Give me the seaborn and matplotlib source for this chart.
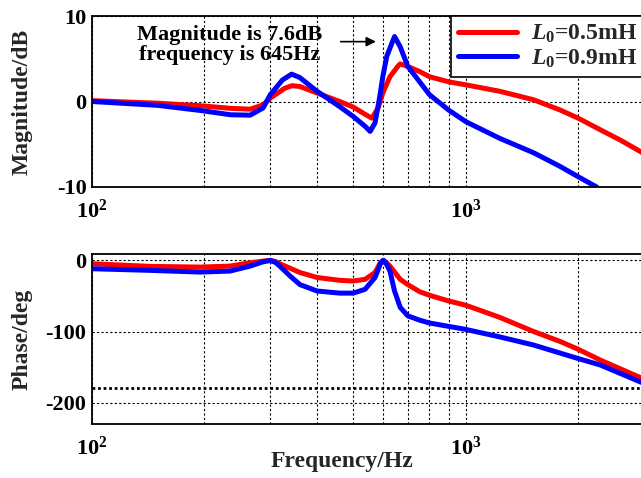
import numpy as np
import pandas as pd
import matplotlib
matplotlib.use('Agg')
import matplotlib.pyplot as plt
import matplotlib.ticker as mticker
import seaborn as sns

# 幅频数据 (Hz, dB)
mag_freq_05 = [100, 150, 195, 235, 265, 287, 300, 328, 343, 360, 400, 460, 500, 538, 561,
               583, 600, 627, 658, 668, 700, 753, 800, 900, 1000, 1232, 1520, 1790, 2000,
               2290, 2590, 3000]
mag_05 = [0.1, -0.2, -0.5, -0.8, -0.9, -0.4, 0.4, 1.55, 1.85, 1.75, 1.0, 0.0, -0.65, -1.5, -1.95,
          -0.75, 1.0, 2.9, 4.1, 4.4, 4.1, 3.5, 2.9, 2.3, 1.95, 1.2, 0.2, -1.0, -1.95,
          -3.3, -4.5, -6.1]

mag_freq_09 = [100, 150, 195, 235, 265, 287, 300, 323, 342, 360, 400, 460, 500, 538, 555,
               572, 589, 600, 615, 645, 668, 700, 753, 800, 900, 1000, 1232, 1520, 1790,
               2000, 2240, 2300]
mag_09 = [0.0, -0.45, -1.05, -1.55, -1.6, -0.75, 0.8, 2.5, 3.2, 2.8, 1.2, -0.6, -1.75, -2.9, -3.5,
          -2.5, 0.6, 2.9, 5.3, 7.6, 6.4, 4.1, 2.3, 0.8, -1.0, -2.35, -4.3, -6.0, -7.6,
          -8.8, -10.0, -10.5]

# 相频数据 (Hz, deg)
ph_freq_05 = [100, 143, 195, 234, 265, 287, 300, 310, 318, 360, 400, 460, 500, 538, 572, 590,
              600, 612, 627, 668, 700, 753, 800, 900, 1000, 1232, 1520, 1790, 2000, 2290, 3000]
ph_05 = [-4.7, -8.4, -9.4, -8, -3.3, -1, 0, -1.5, -4.7, -17, -24, -28, -29, -26.6, -17, -4,
         0, -2.5, -8, -26.6, -34, -44, -49, -57, -63, -80, -100, -114, -125, -140, -167]

ph_freq_09 = [100, 143, 195, 234, 265, 287, 300, 310, 318, 339, 360, 400, 460, 500, 538, 572,
              592, 603, 612, 627, 645, 668, 700, 753, 800, 1000, 1232, 1520, 2000, 2290, 3000]
ph_09 = [-11.7, -14, -16.4, -15, -8, -2, 0, -3, -8, -22, -34, -43, -46, -46, -40.6, -24,
         -4, 0, -4, -15, -43, -66, -78, -84, -88, -97, -107.5, -119, -138, -147, -173]

labels = [r'$L_0$=0.5mH', r'$L_0$=0.9mH']
colors = ['#ff0000', '#0000ff']

sns.set_theme(style='white')
plt.rcParams['font.family'] = ['Liberation Serif', 'DejaVu Serif']
plt.rcParams['font.weight'] = 'bold'
plt.rcParams['axes.labelweight'] = 'bold'
plt.rcParams['mathtext.fontset'] = 'custom'
plt.rcParams['mathtext.rm'] = 'Liberation Serif:bold'
plt.rcParams['mathtext.bf'] = 'Liberation Serif:bold'
plt.rcParams['mathtext.it'] = 'Liberation Serif:italic:bold'
plt.rcParams['axes.unicode_minus'] = False

W, H = 641, 478
fig = plt.figure(figsize=(W / 100, H / 100), dpi=100)
ax1 = fig.add_axes([92 / W, 1 - 187 / H, (644 - 92) / W, 171 / H])
ax2 = fig.add_axes([92 / W, 1 - 424 / H, (644 - 92) / W, 170 / H])

grid_kw = dict(color='black', linestyle=(0, (2, 2)), linewidth=0.8)

for ax in (ax1, ax2):
    ax.set_xscale('log')
    ax.set_xlim(100, 3000)
    ax.xaxis.set_major_locator(mticker.FixedLocator([100, 1000]))
    ax.xaxis.set_major_formatter(mticker.FixedFormatter([r'$10^{2}$', r'$10^{3}$']))
    ax.xaxis.set_minor_locator(mticker.LogLocator(base=10, subs=np.arange(2, 10)))
    ax.xaxis.set_minor_formatter(mticker.NullFormatter())
    ax.grid(True, which='both', axis='x', **grid_kw)
    ax.grid(True, which='major', axis='y', **grid_kw)
    ax.tick_params(which='major', direction='in', length=4, width=1, labelsize=16,
                   colors='black', pad=4)
    ax.tick_params(which='minor', direction='in', length=3, width=0.8)
    ax.tick_params(axis='x', which='major', pad=9)
    for s in ax.spines.values():
        s.set_color('black')
        s.set_linewidth(1.3)
    ax.set_axisbelow(True)

# 幅频
sns.lineplot(x=mag_freq_05, y=mag_05, ax=ax1, color=colors[0], linewidth=3.6, label=labels[0])
sns.lineplot(x=mag_freq_09, y=mag_09, ax=ax1, color=colors[1], linewidth=3.6, label=labels[1])
ax1.set_ylim(-10, 10)
ax1.set_yticks([-10, 0, 10])
ax1.set_ylabel('Magnitude/dB', fontsize=17, fontweight='bold')
leg = ax1.legend(loc='upper right', borderaxespad=0, fontsize=17, frameon=True,
                 fancybox=False, edgecolor='black', handlelength=2.5, handletextpad=0.6,
                 labelspacing=0.1, borderpad=0.3)
leg.get_frame().set_linewidth(1.2)
leg.get_frame().set_alpha(1)
ax1.text(233, 6.6, 'Magnitude is 7.6dB\nfrequency is 645Hz', ha='center', va='center',
         fontsize=16, fontweight='bold', linespacing=0.95, color='black')
ax1.annotate('', xy=(585, 7.0), xytext=(455, 7.0),
             arrowprops=dict(arrowstyle='-|>', color='black', lw=1.2, mutation_scale=14))

# 相频
sns.lineplot(x=ph_freq_05, y=ph_05, ax=ax2, color=colors[0], linewidth=3.6, legend=False)
sns.lineplot(x=ph_freq_09, y=ph_09, ax=ax2, color=colors[1], linewidth=3.6, legend=False)
ax2.axhline(-180, color='black', linestyle=(0, (1, 1)), linewidth=2, zorder=1)
ax2.set_ylim(-230, 9)
ax2.set_yticks([0, -100, -200])
ax2.set_ylabel('Phase/deg', fontsize=17, fontweight='bold')
ax2.set_xlabel('Frequency/Hz', fontsize=17, fontweight='bold')

for ax in (ax1, ax2):
    ax.yaxis.set_label_coords(-0.107, 0.5)
ax2.xaxis.label.set_va('center')
ax2.xaxis.set_label_coords((342 - 92) / (644 - 92), -(461 - 424) / 170)

plt.savefig('out.png', dpi=100)
